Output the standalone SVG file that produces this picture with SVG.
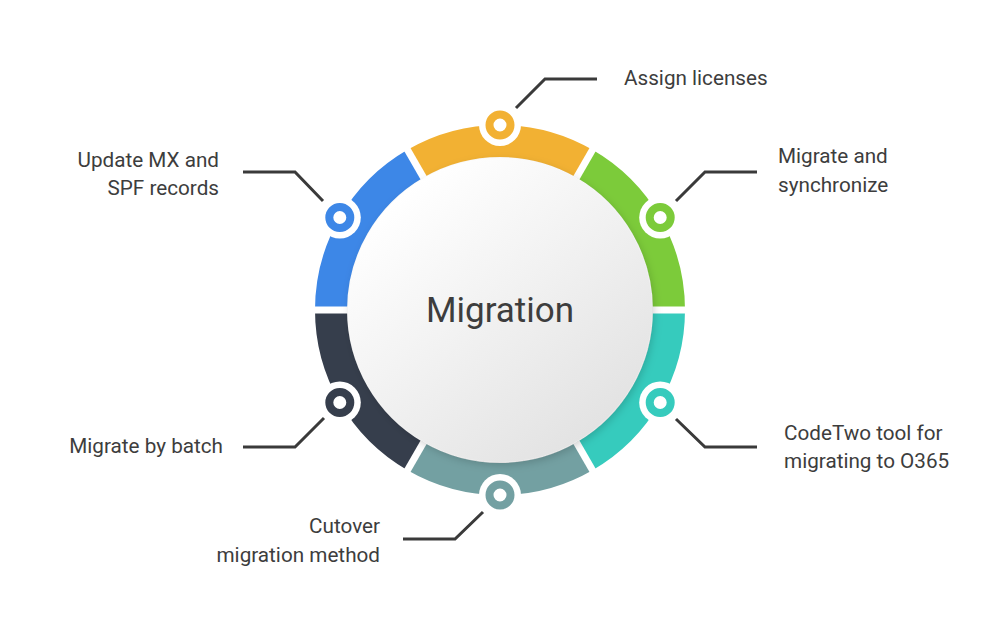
<svg xmlns="http://www.w3.org/2000/svg" width="1000" height="626" viewBox="0 0 1000 626">
<defs>
<style>
.seg{fill:none;stroke-width:32}
.gap{stroke:#fff;stroke-width:7}
.con{fill:none;stroke:#3a3a3a;stroke-width:3}
.halo{fill:#fff}
.mk{fill:none;stroke-width:8}
.lbl{font-family:Roboto,"Liberation Sans",sans-serif;font-size:20.7px;fill:#3d3d3d}
.end{text-anchor:end}
.title{font-family:Roboto,"Liberation Sans",sans-serif;font-size:35px;fill:#3d3d3d;text-anchor:middle}
</style>
<linearGradient id="cg" x1="0.2" y1="0.1" x2="0.85" y2="0.9">
<stop offset="0" stop-color="#ffffff"/>
<stop offset="1" stop-color="#e2e2e2"/>
</linearGradient>
<filter id="sh" x="-20%" y="-20%" width="140%" height="140%">
<feDropShadow dx="2" dy="3" stdDeviation="4" flood-color="#000" flood-opacity="0.18"/>
</filter>
</defs>
<rect width="1000" height="626" fill="#fff"/>
<g id="ring">
<path class="seg" stroke="#F2B133" d="M415.5,163.64 A169,169 0 0 1 584.5,163.64"/>
<path class="seg" stroke="#7CCB3A" d="M584.5,163.64 A169,169 0 0 1 669,310"/>
<path class="seg" stroke="#36CBBD" d="M669,310 A169,169 0 0 1 584.5,456.36"/>
<path class="seg" stroke="#73A0A2" d="M584.5,456.36 A169,169 0 0 1 415.5,456.36"/>
<path class="seg" stroke="#363E4C" d="M415.5,456.36 A169,169 0 0 1 331,310"/>
<path class="seg" stroke="#3D87E7" d="M331,310 A169,169 0 0 1 415.5,163.64"/>
<line class="gap" x1="645" y1="310" x2="692" y2="310"/>
<line class="gap" x1="572.5" y1="184.43" x2="596" y2="143.72"/>
<line class="gap" x1="427.5" y1="184.43" x2="404" y2="143.72"/>
<line class="gap" x1="355" y1="310" x2="308" y2="310"/>
<line class="gap" x1="427.5" y1="435.57" x2="404" y2="476.28"/>
<line class="gap" x1="572.5" y1="435.57" x2="596" y2="476.28"/>
</g>
<g id="center">
<circle cx="500" cy="310" r="152" fill="url(#cg)" filter="url(#sh)"/>
<text class="title" x="500" y="322">Migration</text>
</g>
<g id="connectors">
<path class="con" d="M516,108 L545,79 L597,79"/>
<path class="con" d="M323,201 L295,172 L243,172"/>
<path class="con" d="M676,201 L705,172 L757,172"/>
<path class="con" d="M676,419 L705,447 L757,447"/>
<path class="con" d="M324,418 L295,447 L243,447"/>
<path class="con" d="M483,512 L455,539 L403,539"/>
</g>
<g id="n-assign">
<circle class="halo" cx="500" cy="125" r="21"/>
<circle class="mk" stroke="#F2B133" cx="500" cy="125" r="10.5"/>
<text class="lbl" x="624" y="85">Assign licenses</text>
</g>
<g id="n-sync">
<circle class="halo" cx="660.2" cy="217.5" r="21"/>
<circle class="mk" stroke="#7CCB3A" cx="660.2" cy="217.5" r="10.5"/>
<text class="lbl" x="778" y="163">Migrate and</text>
<text class="lbl" x="778" y="192">synchronize</text>
</g>
<g id="n-codetwo">
<circle class="halo" cx="660.2" cy="402.5" r="21"/>
<circle class="mk" stroke="#36CBBD" cx="660.2" cy="402.5" r="10.5"/>
<text class="lbl" x="784" y="440">CodeTwo tool for</text>
<text class="lbl" x="784" y="468">migrating to O365</text>
</g>
<g id="n-cutover">
<circle class="halo" cx="500" cy="495" r="21"/>
<circle class="mk" stroke="#73A0A2" cx="500" cy="495" r="10.5"/>
<text class="lbl end" x="380" y="533">Cutover</text>
<text class="lbl end" x="380" y="562">migration method</text>
</g>
<g id="n-batch">
<circle class="halo" cx="339.8" cy="402.5" r="21"/>
<circle class="mk" stroke="#363E4C" cx="339.8" cy="402.5" r="10.5"/>
<text class="lbl end" x="223" y="453">Migrate by batch</text>
</g>
<g id="n-mx">
<circle class="halo" cx="339.8" cy="217.5" r="21"/>
<circle class="mk" stroke="#3D87E7" cx="339.8" cy="217.5" r="10.5"/>
<text class="lbl end" x="219" y="167">Update MX and</text>
<text class="lbl end" x="219" y="195">SPF records</text>
</g>
</svg>
